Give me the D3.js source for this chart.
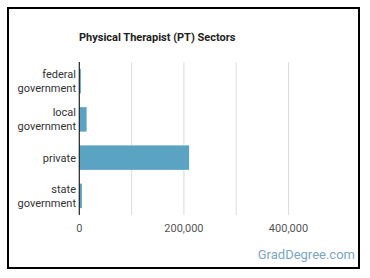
<!DOCTYPE html>
<html><head><meta charset="utf-8">
<script src="https://cdn.jsdelivr.net/npm/d3@7"></script>
<style>body{margin:0;background:#fff;} svg{display:block;font-family:Roboto,"Noto Sans",sans-serif;}</style>
</head><body>
<script>
const categories = [["federal","government"],["local","government"],["private"],["state","government"]];
const values = [3000, 14000, 210000, 5000];
const gridTicks = [100000, 200000, 300000, 400000];
const labelTicks = [0, 200000, 400000];
const title = "Physical Therapist (PT) Sectors";

const W = 370, H = 278;
const svg = d3.select("body").append("svg").attr("width", W).attr("height", H);
svg.append("rect").attr("x",8).attr("y",8).attr("width",351).attr("height",260)
  .attr("fill","#fff").attr("stroke","#000").attr("stroke-width",2);

const x = d3.scaleLinear().domain([0, 500000]).range([79.3, 340.8]);
const keys = categories.map(c => c.join(" "));
const y = d3.scaleBand().domain(keys).range([62, 215]).paddingInner(0.36).paddingOuter(0.18);

svg.append("text").attr("x",79).attr("y",41).attr("font-size",11).attr("font-weight","bold")
  .attr("fill","#222").text(title);

svg.append("g").selectAll("line").data(gridTicks).join("line")
  .attr("x1",d=>x(d)).attr("x2",d=>x(d)).attr("y1",62).attr("y2",215)
  .attr("stroke","#dcdcdc").attr("stroke-width",1);

svg.append("g").selectAll("rect").data(values).join("rect")
  .attr("x", x(0)).attr("y",(d,i)=>y(keys[i])).attr("height", y.bandwidth())
  .attr("width", d=>x(d)-x(0)).attr("fill","#5ba3c3");

svg.append("line").attr("x1",x(0)).attr("x2",x(0)).attr("y1",62).attr("y2",215)
  .attr("stroke","#222").attr("stroke-width",1.2);

const lab = svg.append("g").selectAll("text").data(categories).join("text")
  .attr("text-anchor","end").attr("font-size",11).attr("fill","#333");
lab.each(function(c,i){
  const t = d3.select(this);
  const cy = y(keys[i]) + y.bandwidth()/2;
  c.forEach((s,j)=>{
    t.append("tspan").attr("x",76).attr("y", cy + 4 + (j - (c.length-1)/2)*14).text(s);
  });
});

svg.append("g").selectAll("text").data(labelTicks).join("text")
  .attr("x",d=>x(d)).attr("y",232).attr("text-anchor","middle")
  .attr("font-size",11).attr("fill","#555").text(d=>d3.format(",")(d));

svg.append("text").attr("x",355).attr("y",259).attr("text-anchor","end")
  .attr("font-size",13).attr("fill","#7ba7c4").text("GradDegree.com");
</script>
</body></html>
